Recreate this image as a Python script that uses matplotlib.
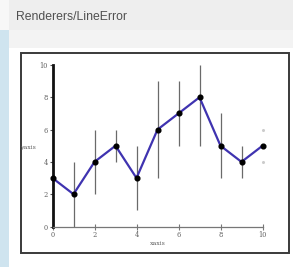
import numpy as np
import matplotlib
matplotlib.use('Agg')
import matplotlib.pyplot as plt
from matplotlib.patches import Rectangle

# ─── Data ────────────────────────────────────────────────────────────────────
x_vals = [0, 1, 2, 3, 4, 5, 6, 7, 8, 9, 10]
y_vals = [3, 2, 4, 5, 3, 6, 7, 8, 5, 4, 5]
err_lo = [3, 0, 2, 4, 1, 3, 5, 5, 3, 3, 4]
err_hi = [3, 4, 6, 6, 5, 9, 9, 10, 7, 5, 6]
ticks = [0, 2, 4, 6, 8, 10]

W, H = 293, 267
fig = plt.figure(figsize=(W / 100, H / 100), dpi=100)
fig.patch.set_facecolor('#ffffff')


def px_rect(x0, y0, x1, y1, **kw):
    # rectangle in pixel coords (origin top-left), kept behind the axes
    fig.patches.append(Rectangle((x0 / W, 1 - y1 / H), (x1 - x0) / W, (y1 - y0) / H,
                                 transform=fig.transFigure, figure=fig, zorder=-5, **kw))


# page background + panel
px_rect(0, 0, W, H, facecolor='#f7f7f7', edgecolor='none')
px_rect(0, 30, 9, H, facecolor='#cfe4ef', edgecolor='none')
px_rect(9, 0, W, 30, facecolor='#eeeeee', edgecolor='none')
px_rect(9, 30, W, 48, facecolor='#f3f3f3', edgecolor='none')
px_rect(9, 48, W, H, facecolor='#ffffff', edgecolor='none')
px_rect(21, 53, 289, 253, facecolor='#ffffff', edgecolor='#3a3a3a', linewidth=1.4)

fig.text(16 / W, 1 - 17 / H, 'Renderers/LineError', fontsize=8.8, color='#505050',
         va='center', ha='left', family='Liberation Sans')

# ─── Plot ────────────────────────────────────────────────────────────────────
ax = fig.add_axes([52.5 / W, 1 - 226.5 / H, 210 / W, 161.5 / H])
ax.set_facecolor('none')
ax.set_zorder(5)

x = np.array(x_vals)
y = np.array(y_vals)
lo = np.array(err_lo)
hi = np.array(err_hi)

ax.vlines(x[1:-1], lo[1:-1], hi[1:-1], color='#6a6a6a', lw=0.9, zorder=2)
ax.plot([x[-1], x[-1]], [lo[-1], hi[-1]], ls='none', marker='o', ms=1.2,
        color='#cccccc', zorder=2, clip_on=False)
ax.plot(x, y, color='#3f33b0', lw=1.6, zorder=3, clip_on=False)
ax.plot(x, y, ls='none', marker='o', ms=3.4, color='black', zorder=4, clip_on=False)

ax.set_xlim(0, 10)
ax.set_ylim(0, 10)
ax.set_xticks(ticks)
ax.set_yticks(ticks)
for sp in ['top', 'right']:
    ax.spines[sp].set_visible(False)
ax.spines['left'].set_color('#111111')
ax.spines['left'].set_linewidth(2.0)
ax.spines['bottom'].set_color('#777777')
ax.spines['bottom'].set_linewidth(0.9)
ax.tick_params(axis='x', direction='inout', length=4, width=0.8, color='#777777',
               labelsize=4.8, labelcolor='#606060', pad=1.5)
ax.tick_params(axis='y', direction='out', length=2, width=0.8, color='#555555',
               labelsize=4.8, labelcolor='#606060', pad=1.5)
for lb in ax.get_xticklabels() + ax.get_yticklabels():
    lb.set_family('DejaVu Serif')

ax.set_xlabel('xaxis', fontsize=4.5, color='#606060', family='DejaVu Serif', labelpad=1)
fig.text(28 / W, 1 - 148 / H, 'yaxis', fontsize=4.5, color='#606060',
         family='DejaVu Serif', ha='center', va='center', zorder=6)

fig.savefig('out.png', dpi=100)
